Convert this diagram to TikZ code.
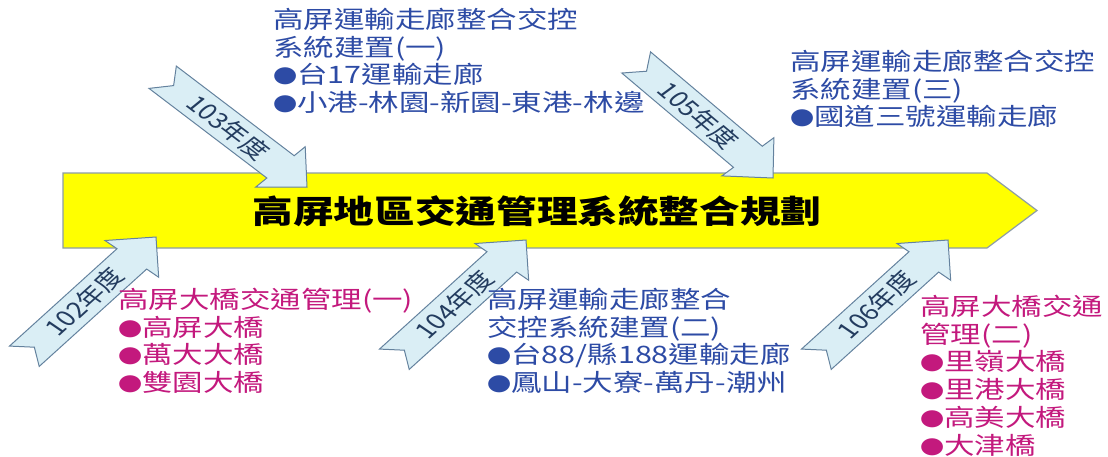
\documentclass[tikz,border=0pt]{standalone}
\usepackage{fontspec}
\usepackage{tikz}
\usetikzlibrary{positioning}
\newfontfamily\cjk{Noto Sans CJK TC}
\definecolor{planyellow}{RGB}{255,255,0}
\definecolor{planedge}{RGB}{140,156,166}
\definecolor{yrfill}{RGB}{218,238,245}
\definecolor{yredge}{RGB}{100,130,158}
\definecolor{yrtext}{RGB}{35,60,95}
\definecolor{itemblue}{RGB}{45,75,165}
\definecolor{itempink}{RGB}{195,25,125}
\newcommand\bul{{\fontsize{19}{19}\selectfont●}}

% year ribbon: tip x, tip y, angle, name, label
\newcommand\yeararrow[5]{%
  \begin{scope}[shift={(#1,#2)}, xscale=1.27, rotate=#3]
    \draw[yrarrow] (0,0) -- (-29,28) -- (-29,15.5) -- (-158,15.5) -- (-146,0)
      -- (-158,-15.5) -- (-29,-15.5) -- (-29,-28) -- cycle;
    \node[yrlabel] (#4) at (-86,0) {#5};
  \end{scope}}

\begin{document}
\begin{tikzpicture}[x=1pt,y=-1pt,
    plan/.style={draw=planedge, line width=1.2pt, fill=planyellow},
    yrarrow/.style={draw=yredge, line width=1pt, fill=yrfill, line join=miter},
    yrlabel/.style={transform shape, inner sep=0, text=yrtext, font=\cjk\fontsize{22}{22}\selectfont},
    items/.style={xscale=1.27, anchor=north west, inner sep=0, align=left,
      font=\cjk\fontsize{24}{27.7}\selectfont}]
  \useasboundingbox (0,0) rectangle (1108,456);

  \draw[plan] (63,173) -- (987,173) -- (1037,210.5) -- (987,248) -- (63,248) -- cycle;
  \node[xscale=1.27, inner sep=0, font=\cjk\bfseries\fontsize{32}{32}\selectfont] (title) at (537,211)
    {高屏地區交通管理系統整合規劃};

  \yeararrow{156}{237}{49}{y102}{102年度}
  \yeararrow{307}{187}{-44}{y103}{103年度}
  \yeararrow{526}{240}{49}{y104}{104年度}
  \yeararrow{773}{178}{-47}{y105}{105年度}
  \yeararrow{948}{240}{49}{y106}{106年度}

  \node[items, text=itemblue] (p103) at (273,8)
    {高屏運輸走廊整合交控\\系統建置(一)\\\bul 台17運輸走廊\\\bul 小港-林園-新園-東港-林邊};
  \node[items, text=itemblue] (p105) at (790,50)
    {高屏運輸走廊整合交控\\系統建置(三)\\\bul 國道三號運輸走廊};
  \node[items, text=itempink] (p102) at (118,288)
    {高屏大橋交通管理(一)\\\bul 高屏大橋\\\bul 萬大大橋\\\bul 雙園大橋};
  \node[items, text=itemblue] (p104) at (487,288)
    {高屏運輸走廊整合\\交控系統建置(二)\\\bul 台88/縣188運輸走廊\\\bul 鳳山-大寮-萬丹-潮州};
  \node[items, text=itempink] (p106) at (920,295)
    {高屏大橋交通\\管理(二)\\\bul 里嶺大橋\\\bul 里港大橋\\\bul 高美大橋\\\bul 大津橋};
\end{tikzpicture}
\end{document}
